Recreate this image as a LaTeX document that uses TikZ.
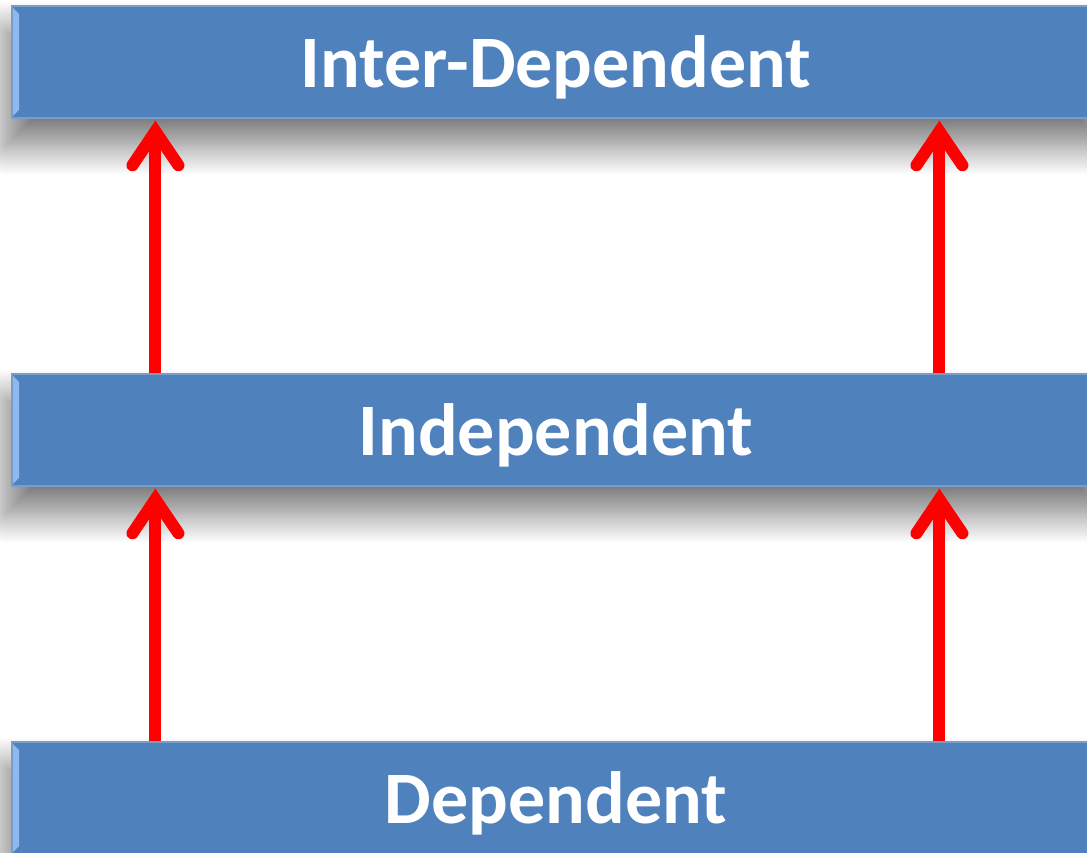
\documentclass[tikz,border=0pt]{standalone}
\usepackage{fontspec}
\setmainfont{Carlito}
\usetikzlibrary{shapes,arrows.meta,shadows.blur}
\definecolor{barblue}{HTML}{4F81BD}
\definecolor{baredge}{HTML}{7A9CC8}
\definecolor{barlight}{HTML}{8DB8F0}
\tikzstyle{bar} = [rectangle, draw=baredge, line width=1.2pt, fill=barblue,
    minimum width=1088pt, minimum height=112pt, text=white, text depth=0pt,
    font=\fontsize{74}{80}\selectfont\bfseries,
    path picture={\fill[barlight] ([xshift=1pt,yshift=-2pt]path picture bounding box.north west)
        -- ++(6,-6) -- ++(0,-96) -- ++(-6,-6) -- cycle;},
    blur shadow={shadow xshift=0pt, shadow yshift=-26pt, shadow scale=1.01,
        shadow blur radius=30pt, shadow blur steps=30, shadow opacity=55}]
\tikzstyle{line} = [draw=red, line width=12pt, shorten >=2pt,
    -{Straight Barb[length=34pt, width=46pt, line width=12pt, line cap=round, line join=miter]}]

\begin{document}
\begin{tikzpicture}[x=1pt, y=1pt]
	\useasboundingbox (0,0) rectangle (1087,852);

		\node [bar] (inter) at (556,790) {Inter-Dependent};
		\node [bar] (indep) at (556,422) {Independent};
		\node [bar] (dep) at (556,54) {Dependent};

		\path [line] ([xshift=144pt]dep.north west) -- ([xshift=144pt]indep.south west);
		\path [line] ([xshift=928pt]dep.north west) -- ([xshift=928pt]indep.south west);
		\path [line] ([xshift=144pt]indep.north west) -- ([xshift=144pt]inter.south west);
		\path [line] ([xshift=928pt]indep.north west) -- ([xshift=928pt]inter.south west);
	\end{tikzpicture}
\end{document}
